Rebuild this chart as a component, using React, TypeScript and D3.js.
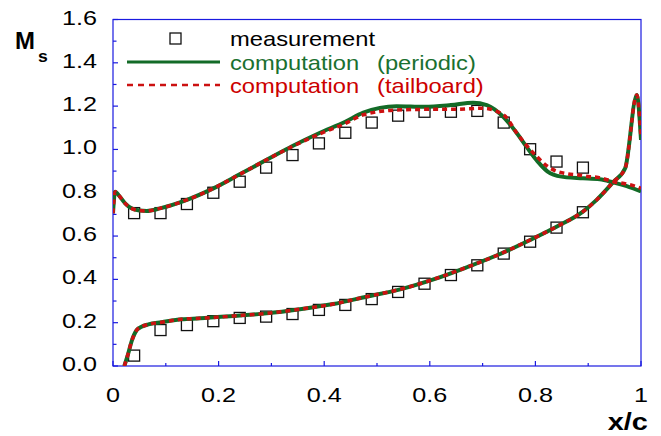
import React from "react";
import * as d3 from "d3";

// measured isentropic Mach number, suction + pressure side (x/c = 0.04 ... 0.89)
const measX = [0.04, 0.09, 0.14, 0.19, 0.24, 0.29, 0.34, 0.39, 0.44, 0.49, 0.54, 0.59, 0.64, 0.69, 0.74, 0.79, 0.84, 0.89];
const measUpper = [0.706, 0.706, 0.748, 0.8, 0.851, 0.916, 0.974, 1.028, 1.077, 1.124, 1.156, 1.174, 1.174, 1.178, 1.124, 1.001, 0.944, 0.916];
const measLower = [0.048, 0.166, 0.189, 0.207, 0.222, 0.228, 0.24, 0.259, 0.282, 0.309, 0.342, 0.38, 0.42, 0.465, 0.519, 0.574, 0.639, 0.71];

// computation (periodic) - [x/c, Ms]
const periodicUpper: [number, number][] = [
  [0, 0.705], [0.004, 0.805], [0.012, 0.785], [0.023, 0.751], [0.035, 0.728], [0.05, 0.718], [0.064, 0.716],
  [0.089, 0.728], [0.14, 0.767], [0.19, 0.82], [0.24, 0.885], [0.29, 0.951], [0.34, 1.016], [0.39, 1.075],
  [0.44, 1.128], [0.474, 1.17], [0.537, 1.2], [0.59, 1.197], [0.64, 1.205], [0.682, 1.216], [0.708, 1.205],
  [0.739, 1.151], [0.765, 1.075], [0.783, 1.013], [0.802, 0.951], [0.828, 0.89], [0.859, 0.871], [0.89, 0.867],
  [0.922, 0.862], [0.948, 0.847], [0.973, 0.831], [1.0, 0.806],
];
const periodicLower: [number, number][] = [
  [0.0214, 0], [0.029, 0.059], [0.035, 0.112], [0.045, 0.166], [0.054, 0.181], [0.067, 0.192], [0.092, 0.202],
  [0.13, 0.216], [0.165, 0.22], [0.228, 0.231], [0.291, 0.243], [0.354, 0.262], [0.417, 0.286], [0.48, 0.32],
  [0.544, 0.354], [0.607, 0.4], [0.67, 0.456], [0.733, 0.517], [0.79, 0.582], [0.84, 0.643], [0.89, 0.713],
  [0.916, 0.767], [0.948, 0.851], [0.97, 0.913], [0.992, 1.251], [1.0, 1.044],
];

// computation (tailboard)
const tailboardUpper: [number, number][] = [
  [0, 0.705], [0.004, 0.805], [0.012, 0.785], [0.023, 0.751], [0.035, 0.728], [0.05, 0.718], [0.064, 0.716],
  [0.089, 0.728], [0.14, 0.767], [0.19, 0.82], [0.24, 0.885], [0.29, 0.951], [0.34, 1.014], [0.39, 1.07],
  [0.44, 1.12], [0.474, 1.16], [0.537, 1.182], [0.59, 1.185], [0.64, 1.185], [0.7, 1.19], [0.74, 1.159],
  [0.765, 1.075], [0.78, 1.028], [0.8, 0.974], [0.824, 0.92], [0.843, 0.897], [0.862, 0.887], [0.881, 0.882],
  [0.903, 0.874], [0.919, 0.871], [0.948, 0.851], [0.973, 0.84], [0.992, 0.828], [1.0, 0.82],
];
const tailboardLower: [number, number][] = [
  [0.0214, 0], [0.029, 0.059], [0.035, 0.112], [0.045, 0.166], [0.054, 0.181], [0.067, 0.192], [0.092, 0.202],
  [0.13, 0.216], [0.165, 0.22], [0.228, 0.231], [0.291, 0.243], [0.354, 0.262], [0.417, 0.286], [0.48, 0.32],
  [0.544, 0.354], [0.607, 0.4], [0.67, 0.456], [0.733, 0.517], [0.79, 0.582], [0.84, 0.643], [0.89, 0.713],
  [0.916, 0.767], [0.948, 0.851], [0.97, 0.913], [0.992, 1.251], [1.0, 1.05],
];

const xTickLabels = ["0", "0.2", "0.4", "0.6", "0.8", "1"];
const yTickLabels = ["0.0", "0.2", "0.4", "0.6", "0.8", "1.0", "1.2", "1.4", "1.6"];

const W = 661, H = 436;
const left = 113, right = 641, top = 19.5, bottom = 366;
const AXIS = "#1a1ae0";
const GREEN = "#136b27";
const RED = "#cc1111";
const FONT = "'Liberation Sans', Arial, sans-serif";

// text stretched horizontally like the original bitmap
const T = (p: { x: number; y: number; sx?: number; anchor?: string; size: number; fill?: string; bold?: boolean; children: any }) => (
  <text
    transform={`translate(${p.x},${p.y}) scale(${p.sx ?? 1},1)`}
    textAnchor={p.anchor ?? "start"}
    fontSize={p.size}
    fontFamily={FONT}
    fontWeight={p.bold ? "bold" : "normal"}
    fill={p.fill ?? "#000"}
  >
    {p.children}
  </text>
);

export default function App() {
  const x = d3.scaleLinear().domain([0, 1]).range([left, right]);
  const y = d3.scaleLinear().domain([0, 1.6]).range([bottom, top]);
  const line = d3
    .line<[number, number]>()
    .x((d) => x(d[0]))
    .y((d) => y(d[1]))
    .curve(d3.curveMonotoneX);

  const xMinor = d3.range(0, 1.0001, 0.1);
  const yMinor = d3.range(0, 1.6001, 0.1);
  const sq = 11;

  return (
    <svg width={W} height={H} style={{ position: "absolute", left: 0, top: 0, background: "#fff" }}>
      <defs>
        <clipPath id="plot">
          <rect x={left} y={top} width={right - left} height={bottom - top} />
        </clipPath>
      </defs>

      {/* frame */}
      <rect x={left} y={top} width={right - left} height={bottom - top} fill="none" stroke={AXIS} strokeWidth={1.2} />
      {xMinor.map((v, i) => (
        <line key={"xt" + i} x1={x(v)} x2={x(v)} y1={bottom} y2={bottom - (i % 2 === 0 ? 5 : 3)} stroke={AXIS} strokeWidth={1.2} />
      ))}
      {yMinor.map((v, i) => (
        <line key={"yt" + i} x1={left} x2={left + (i % 2 === 0 ? 5 : 3.5)} y1={y(v)} y2={y(v)} stroke={AXIS} strokeWidth={1.2} />
      ))}

      {/* tick labels */}
      {yTickLabels.map((t) => (
        <T key={t} x={97} y={y(+t) + 5} anchor="end" size={20} sx={1.26}>{t}</T>
      ))}
      {xTickLabels.map((t) => (
        <T key={t} x={x(+t)} y={401.5} anchor="middle" size={20} sx={1.26}>{t}</T>
      ))}

      {/* axis titles */}
      <T x={15} y={48.5} size={23} bold sx={1.04}>M</T>
      <T x={38} y={62} size={16} bold sx={1.1}>s</T>
      <T x={648} y={430} anchor="end" size={23} bold sx={1.26}>x/c</T>

      {/* measurements */}
      <g fill="none" stroke="#111" strokeWidth={1.3}>
        {measX.map((v, i) => (
          <rect key={"u" + i} x={x(v) - sq / 2} y={y(measUpper[i]) - sq / 2} width={sq} height={sq} />
        ))}
        {measX.map((v, i) => (
          <rect key={"l" + i} x={x(v) - sq / 2} y={y(measLower[i]) - sq / 2} width={sq} height={sq} />
        ))}
      </g>

      {/* computations */}
      <g clipPath="url(#plot)" fill="none">
        <path d={line(periodicUpper) ?? ""} stroke={GREEN} strokeWidth={4} strokeLinejoin="round" />
        <path d={line(periodicLower) ?? ""} stroke={GREEN} strokeWidth={4} strokeLinejoin="round" />
        <path d={line(tailboardUpper) ?? ""} stroke={RED} strokeWidth={3.5} strokeDasharray="5,4" />
        <path d={line(tailboardLower) ?? ""} stroke={RED} strokeWidth={3.5} strokeDasharray="5,4" />
      </g>

      {/* legend */}
      <rect x={175.5 - sq / 2} y={38.5 - sq / 2} width={sq} height={sq} fill="none" stroke="#111" strokeWidth={1.3} />
      <line x1={127} x2={220} y1={62} y2={62} stroke={GREEN} strokeWidth={3} />
      <line x1={127} x2={220} y1={85} y2={85} stroke={RED} strokeWidth={2.5} strokeDasharray="6,5" />
      <T x={230} y={46} size={21} sx={1.13}>measurement</T>
      <T x={230} y={69.5} size={21} sx={1.13} fill="#1a7030">computation</T>
      <T x={377} y={69.5} size={21} sx={1.13} fill="#1a7030">(periodic)</T>
      <T x={230} y={93} size={21} sx={1.13} fill="#cc0000">computation</T>
      <T x={377} y={93} size={21} sx={1.13} fill="#cc0000">(tailboard)</T>
    </svg>
  );
}
